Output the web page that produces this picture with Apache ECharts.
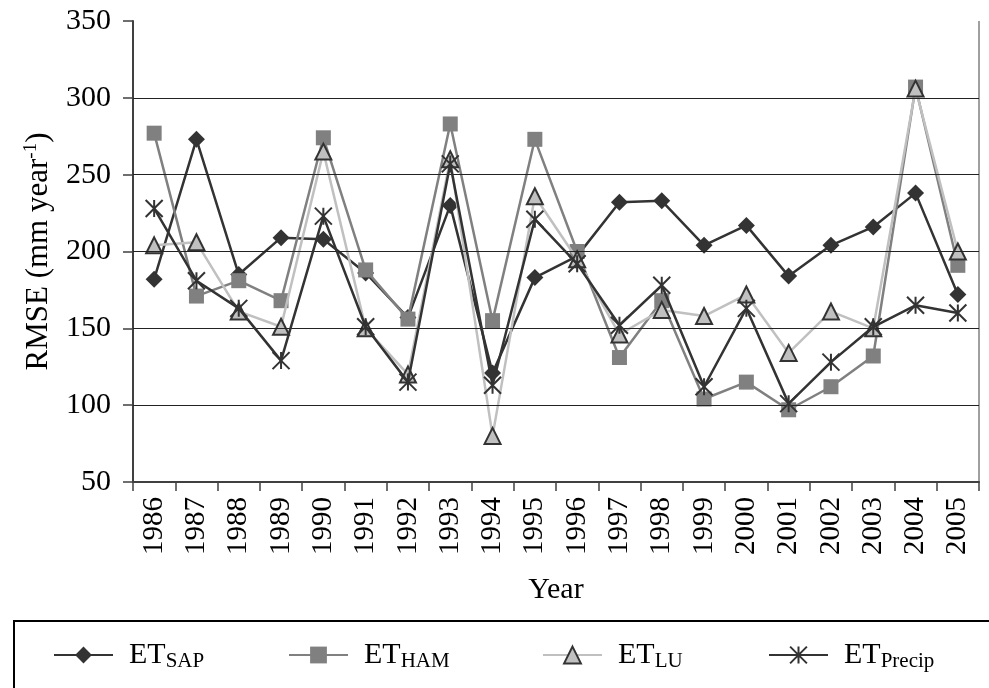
<!DOCTYPE html>
<html>
<head>
<meta charset="utf-8">
<script src="https://cdn.jsdelivr.net/npm/echarts@6/dist/echarts.min.js"></script>
<style>
  html, body { margin: 0; padding: 0; background: #fff; }
  #chart { width: 989px; height: 688px; }
</style>
</head>
<body>
<div id="chart"></div>
<script>
// Years on the category axis
const years = ['1986', '1987', '1988', '1989', '1990', '1991', '1992', '1993', '1994', '1995',
               '1996', '1997', '1998', '1999', '2000', '2001', '2002', '2003', '2004', '2005'];

// RMSE of each ET estimate (mm year-1)
const etSap    = [182, 273, 185, 209, 208, 186, 157, 230, 121, 183, 197, 232, 233, 204, 217, 184, 204, 216, 238, 172];
const etHam    = [277, 171, 181, 168, 274, 188, 156, 283, 155, 273, 200, 131, 168, 104, 115, 97, 112, 132, 307, 191];
const etLu     = [204, 206, 161, 151, 265, 150, 120, 260, 80, 236, 195, 146, 162, 158, 172, 134, 161, 150, 306, 200];
const etPrecip = [228, 181, 163, 129, 223, 151, 115, 257, 113, 221, 192, 152, 178, 112, 163, 101, 128, 151, 165, 160];

// Legend labels (drawn as ET + subscript)
const seriesNames = ['SAP', 'HAM', 'LU', 'Precip'];

// y axis range and horizontal grid lines
const yMin = 50, yMax = 350, yStep = 50;
const gridValues = [100, 150, 200, 250, 300];

const FONT = '"Liberation Serif", "DejaVu Serif", serif';
const asterisk = 'path://M10,0L10,20M0,0L20,20M0,20L20,0';

const chart = echarts.init(document.getElementById('chart'), null, { renderer: 'canvas' });

const legendRich = {
  a: { fontFamily: FONT, fontSize: 30, color: '#000', padding: [0, 0, 0, 11] },
  b: { fontFamily: FONT, fontSize: 21, color: '#000', verticalAlign: 'bottom', padding: [12, 0, 0, 0] }
};
const legendLefts = [53, 288, 542, 768];

function makeLegend(i) {
  return {
    show: true,
    data: [seriesNames[i]],
    left: legendLefts[i],
    top: 640,
    orient: 'horizontal',
    padding: 0,
    itemWidth: 59,
    itemHeight: 21,
    selectedMode: false,
    formatter: n => '{a|ET}{b|' + n + '}',
    textStyle: { rich: legendRich }
  };
}

const series = [
  {
    name: 'SAP', data: etSap, z: 2,
    symbol: 'diamond', symbolSize: 17,
    itemStyle: { color: '#333333' },
    lineStyle: { color: '#333333', width: 2.5 }
  },
  {
    name: 'HAM', data: etHam, z: 3,
    symbol: 'rect', symbolSize: 15,
    itemStyle: { color: '#808080' },
    lineStyle: { color: '#808080', width: 2.5 }
  },
  {
    name: 'LU', data: etLu, z: 4,
    symbol: 'triangle', symbolSize: 16,
    itemStyle: { color: '#c0c0c0', borderColor: '#333333', borderWidth: 2 },
    lineStyle: { color: '#c0c0c0', width: 2.5 }
  },
  {
    name: 'Precip', data: etPrecip, z: 5,
    symbol: asterisk, symbolSize: 17,
    itemStyle: { color: 'none', borderColor: '#333333', borderWidth: 2 },
    lineStyle: { color: '#333333', width: 2.5 }
  }
].map(s => Object.assign({ type: 'line', showAllSymbol: true, animation: false }, s));

// horizontal grid lines (none at the top of the axis)
series.unshift({
  type: 'line',
  name: 'grid',
  data: [],
  z: 1,
  silent: true,
  animation: false,
  markLine: {
    silent: true,
    symbol: ['none', 'none'],
    label: { show: false },
    lineStyle: { color: '#222222', width: 1, type: 'solid' },
    data: gridValues.map(v => ({ yAxis: v }))
  }
});

const option = {
  animation: false,
  backgroundColor: '#ffffff',
  grid: { left: 133, right: 10, top: 21, bottom: 206, containLabel: false },
  legend: [0, 1, 2, 3].map(makeLegend),
  xAxis: {
    type: 'category',
    data: years,
    boundaryGap: true,
    name: 'Year',
    nameLocation: 'middle',
    nameGap: 93,
    nameTextStyle: { fontFamily: FONT, fontSize: 30, color: '#000' },
    axisLine: { lineStyle: { color: '#404040', width: 2 } },
    axisTick: { show: true, inside: false, length: 9, alignWithLabel: false, lineStyle: { color: '#404040', width: 1.5 } },
    axisLabel: { rotate: 90, margin: 15, fontFamily: FONT, fontSize: 29, color: '#000', interval: 0 },
    splitLine: { show: false }
  },
  yAxis: {
    type: 'value',
    min: yMin, max: yMax, interval: yStep,
    name: '{t|RMSE (mm year}{s|-1}{t|)}',
    nameLocation: 'middle',
    nameRotate: 90,
    nameGap: 78,
    nameTextStyle: {
      rich: {
        t: { fontFamily: FONT, fontSize: 31, color: '#000' },
        s: { fontFamily: FONT, fontSize: 19, color: '#000', verticalAlign: 'top', padding: [0, 0, 14, 0] }
      }
    },
    axisLine: { show: true, lineStyle: { color: '#404040', width: 2 } },
    axisTick: { show: true, inside: false, length: 10, lineStyle: { color: '#404040', width: 1.5 } },
    axisLabel: { margin: 22, fontFamily: FONT, fontSize: 30, color: '#000' },
    splitLine: { show: false }
  },
  graphic: [
    {
      type: 'rect',
      shape: { x: 14, y: 621, width: 1000, height: 100 },
      style: { fill: 'none', stroke: '#000', lineWidth: 2 },
      silent: true
    },
    {
      type: 'line',
      shape: { x1: 979, y1: 21, x2: 979, y2: 482 },
      style: { stroke: '#a0a0a0', lineWidth: 2 },
      silent: true
    }
  ],
  series: series
};

chart.setOption(option);
</script>
</body>
</html>
